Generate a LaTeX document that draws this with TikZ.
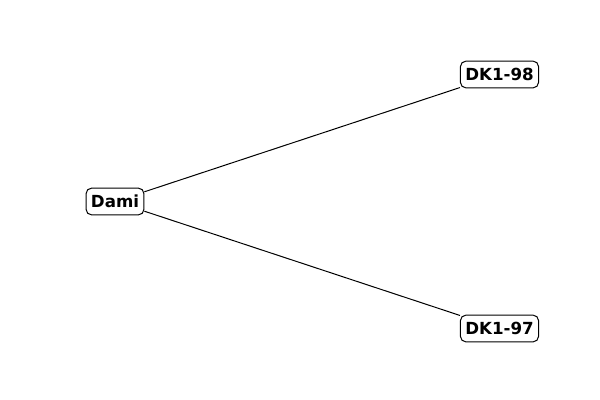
\documentclass[tikz,border=0pt]{standalone}
\usepackage{fontspec}
\setmainfont{DejaVu Sans}
\begin{document}
\begin{tikzpicture}[x=0.75pt,y=-0.75pt,
  lbl/.style={draw=black,fill=white,rounded corners=4pt,line width=0.75pt,inner xsep=3.6pt,minimum height=20pt,font=\fontsize{12.5}{14}\selectfont\bfseries},
  edge/.style={line width=0.75pt,black}]
\useasboundingbox (0,0) rectangle (600,400);
\node[lbl] (dami) at (115,201.5) {Dami};
\node[lbl] (d98) at (499.5,74.5) {DK1-98};
\node[lbl] (d97) at (499.5,328.5) {DK1-97};
\draw[edge] (dami) -- (d98);
\draw[edge] (dami) -- (d97);
\end{tikzpicture}
\end{document}
